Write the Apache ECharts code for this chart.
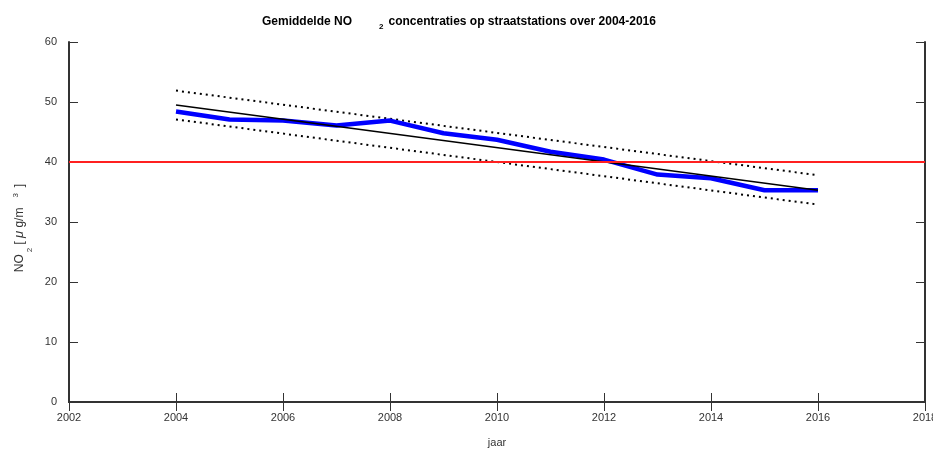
<!DOCTYPE html>
<html>
<head>
<meta charset="utf-8">
<script src="https://cdn.jsdelivr.net/npm/echarts@6/dist/echarts.min.js"></script>
<style>
  html, body { margin: 0; padding: 0; background: #fff; }
  #chart { width: 933px; height: 450px; }
</style>
</head>
<body>
<div id="chart"></div>
<script>
// jaarlijks gemiddelde NO2 op straatstations
var years = [2004, 2005, 2006, 2007, 2008, 2009, 2010, 2011, 2012, 2013, 2014, 2015, 2016];
var no2 = [48.4, 47.1, 46.9, 46.1, 46.9, 44.8, 43.7, 41.7, 40.4, 37.9, 37.3, 35.3, 35.3];

// trendlijn en betrouwbaarheidsband (begin- en eindpunt)
var trendYears = [2004, 2016];
var trend = [49.5, 35.3];
var upper = [51.9, 37.8];
var lower = [47.1, 32.9];

var limitValue = 40;
var xTicks = { min: 2002, max: 2018, step: 2 };
var yTicks = { min: 0, max: 60, step: 10 };

function pairs(xs, ys) {
    var out = [];
    for (var i = 0; i < xs.length; i++) {
        out.push([xs[i], ys[i]]);
    }
    return out;
}

var axisColor = '#333';
var font = 'Arial, "Liberation Sans", sans-serif';

var myChart = echarts.init(document.getElementById('chart'));

var option = {
    animation: false,
    backgroundColor: '#fff',
    title: {
        text: '{t|Gemiddelde NO}{s|2}{t|concentraties op straatstations over 2004-2016}',
        left: 257,
        top: 8,
        textStyle: {
            rich: {
                t: { fontFamily: font, fontWeight: 'bold', fontSize: 12, color: '#000', lineHeight: 18, verticalAlign: 'middle' },
                s: { fontFamily: font, fontWeight: 'bold', fontSize: 8, color: '#000', lineHeight: 18, verticalAlign: 'bottom', padding: [0, 5, 0, 27] }
            }
        }
    },
    grid: {
        left: 69,
        right: 8,
        top: 42,
        bottom: 48,
        containLabel: false,
        outerBoundsMode: 'none'
    },
    xAxis: [{
        type: 'value',
        min: xTicks.min,
        max: xTicks.max,
        interval: xTicks.step,
        name: 'jaar',
        nameLocation: 'middle',
        nameGap: 35,
        nameTextStyle: { fontFamily: font, fontSize: 11, color: '#333' },
        axisLine: { show: true, lineStyle: { color: axisColor, width: 2 } },
        axisTick: { show: true, inside: true, length: 9, lineStyle: { color: axisColor, width: 1 } },
        axisLabel: { fontFamily: font, fontSize: 11, color: '#333', margin: 10, formatter: function (v) { return String(v); } },
        splitLine: { show: false }
    }, {
        type: 'value',
        position: 'top',
        min: xTicks.min,
        max: xTicks.max,
        interval: xTicks.step,
        axisLine: { show: true, lineStyle: { color: axisColor, width: 2 } },
        axisTick: { show: true, inside: true, length: 9, lineStyle: { color: axisColor, width: 1 } },
        axisLabel: { show: false },
        splitLine: { show: false }
    }],
    yAxis: [{
        type: 'value',
        min: yTicks.min,
        max: yTicks.max,
        interval: yTicks.step,
        name: '{n|NO}{sub|2}{n| [}{mu|μ}{n| g/m}{sup|3}{e|]}',
        nameLocation: 'middle',
        nameGap: 35,
        nameRotate: 90,
        nameTextStyle: {
            rich: {
                n: { fontFamily: font, fontSize: 12, color: '#333', lineHeight: 28, verticalAlign: 'middle' },
                e: { fontFamily: font, fontSize: 12, color: '#333', lineHeight: 28, verticalAlign: 'middle', padding: [0, 12, 0, 0] },
                sub: { fontFamily: font, fontSize: 8, color: '#333', lineHeight: 28, verticalAlign: 'bottom', padding: [0, 0, 0, 2] },
                mu: { fontFamily: font, fontSize: 13, fontStyle: 'italic', color: '#333', lineHeight: 28, verticalAlign: 'middle', padding: [0, 0, 0, 3] },
                sup: { fontFamily: font, fontSize: 8, color: '#333', lineHeight: 28, verticalAlign: 'top', padding: [6, 6, 0, 10] }
            }
        },
        axisLine: { show: true, lineStyle: { color: axisColor, width: 2 } },
        axisTick: { show: true, inside: true, length: 9, lineStyle: { color: axisColor, width: 1 } },
        axisLabel: { fontFamily: font, fontSize: 11, color: '#333', margin: 12, padding: [0, 0, 6, 0] },
        splitLine: { show: false }
    }, {
        type: 'value',
        position: 'right',
        min: yTicks.min,
        max: yTicks.max,
        interval: yTicks.step,
        axisLine: { show: true, lineStyle: { color: axisColor, width: 2 } },
        axisTick: { show: true, inside: true, length: 9, lineStyle: { color: axisColor, width: 1 } },
        axisLabel: { show: false },
        splitLine: { show: false }
    }],
    series: [
        {
            name: 'grenswaarde',
            type: 'line',
            data: [],
            silent: true,
            markLine: {
                symbol: 'none',
                silent: true,
                label: { show: false },
                lineStyle: { color: '#ff2020', width: 2, type: 'solid' },
                data: [{ yAxis: limitValue }]
            }
        },
        {
            name: 'bovengrens',
            type: 'line',
            data: pairs(trendYears, upper),
            symbol: 'none',
            lineStyle: { color: '#000', width: 2, type: [2, 4] }
        },
        {
            name: 'ondergrens',
            type: 'line',
            data: pairs(trendYears, lower),
            symbol: 'none',
            lineStyle: { color: '#000', width: 2, type: [2, 4] }
        },
        {
            name: 'NO2',
            type: 'line',
            data: pairs(years, no2),
            symbol: 'none',
            lineStyle: { color: '#0000ff', width: 4.5 }
        },
        {
            name: 'trend',
            type: 'line',
            data: pairs(trendYears, trend),
            symbol: 'none',
            lineStyle: { color: '#000', width: 1.5 }
        }
    ]
};

myChart.setOption(option);
</script>
</body>
</html>
